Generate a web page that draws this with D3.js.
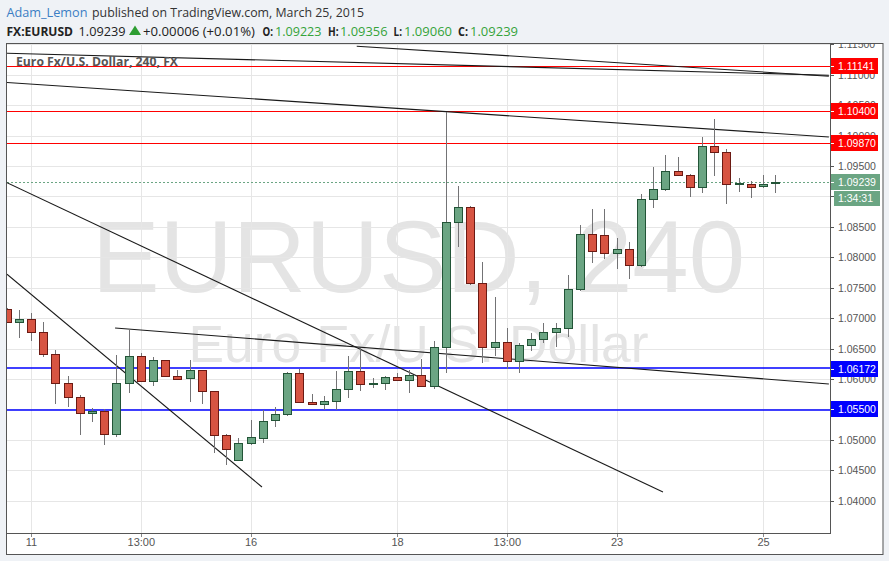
<!DOCTYPE html>
<html><head><meta charset="utf-8">
<script src="https://cdn.jsdelivr.net/npm/d3@7"></script>
<style>html,body{margin:0;padding:0;background:#eff2f6;}svg{display:block}</style>
</head><body><svg id="c" width="889" height="561"></svg>
<script>
// ---- data (4H candles, EURUSD) ----
const opens  = [1.07145,1.06932,1.06981,1.06767,1.06406,1.05929,1.05699,1.05436,1.05469,1.05091,
                1.05929,1.06378,1.05962,1.06307,1.06044,1.06011,1.06143,1.05798,1.05075,1.04664,
                1.04943,1.05035,1.05326,1.05420,1.06094,1.05627,1.05584,1.05634,1.05831,1.06127,
                1.05913,1.05929,1.06028,1.05979,1.06061,1.05880,1.06521,1.08575,1.08822,1.07583,
                1.06531,1.06603,1.06291,1.06554,1.06652,1.06767,1.06833,1.07474,1.08378,1.08361,
                1.08076,1.08131,1.07868,1.08953,1.09117,1.09413,1.09348,1.09150,1.09824,1.09725,
                1.09200,1.09210,1.09167,1.09223];
const highs  = [1.07160,1.07134,1.07080,1.06932,1.06477,1.06049,1.05737,1.05518,1.05507,1.06394,
                1.06817,1.06432,1.06357,1.06315,1.06148,1.06312,1.06150,1.05805,1.05091,1.05025,
                1.05326,1.05491,1.05545,1.06120,1.06159,1.05753,1.05721,1.06131,1.06378,1.06505,
                1.06021,1.06049,1.06103,1.06148,1.06324,1.06624,1.10393,1.09172,1.08843,1.07918,
                1.07353,1.06838,1.06597,1.06761,1.06925,1.06925,1.07709,1.08531,1.08794,1.08794,
                1.08317,1.08252,1.09040,1.09479,1.09681,1.09648,1.09369,1.09977,1.10273,1.09780,
                1.09298,1.09259,1.09352,1.09356];
const lows   = [1.06920,1.06669,1.06629,1.06357,1.05584,1.05545,1.05085,1.05298,1.04920,1.05052,
                1.05775,1.05950,1.05890,1.06040,1.05984,1.05627,1.05594,1.04789,1.04592,1.04660,
                1.04920,1.04953,1.05216,1.05397,1.05601,1.05584,1.05491,1.05491,1.05693,1.05808,
                1.05847,1.05819,1.05979,1.05775,1.05880,1.05831,1.06104,1.08174,1.07545,1.06268,
                1.06378,1.06159,1.06104,1.06465,1.06597,1.06531,1.06695,1.07451,1.07911,1.07977,
                1.07813,1.07648,1.07845,1.08815,1.09094,1.09348,1.08993,1.09052,1.09341,1.08881,
                1.09078,1.08979,1.09144,1.09060];
const closes = [1.06932,1.06981,1.06767,1.06406,1.05929,1.05699,1.05436,1.05469,1.05091,1.05929,
                1.06378,1.05962,1.06312,1.06044,1.06005,1.06143,1.05798,1.05075,1.04845,1.04943,
                1.05042,1.05315,1.05420,1.06094,1.05627,1.05584,1.05634,1.05831,1.06127,1.05913,
                1.05939,1.06028,1.05979,1.06061,1.05880,1.06521,1.08575,1.08822,1.07583,1.06531,
                1.06603,1.06291,1.06554,1.06652,1.06767,1.06833,1.07474,1.08378,1.08108,1.08076,
                1.08131,1.07868,1.08953,1.09117,1.09413,1.09348,1.09150,1.09824,1.09725,1.09200,
                1.09226,1.09160,1.09200,1.09239];
const timeTickIdx    = [2, 11, 20, 32, 41, 50, 62];
const timeTickLabels = ["11", "13:00", "16", "18", "13:00", "23", "25"];
const priceTicks = [1.040,1.045,1.050,1.055,1.060,1.065,1.070,1.075,1.080,1.085,1.090,1.095,1.100,1.105,1.110,1.115];
const redLevels  = [1.11141, 1.10400, 1.09870];
const blueLevels = [1.06172, 1.05500];
const lastPrice  = 1.09239;
const countdown  = "1:34:31";
// trend lines: [index1, price1, index2, price2]
const trendLines = [
  [0.03, 1.11354, 67.4, 1.10992],
  [28.7, 1.11469, 67.4, 1.10976],
  [0.03, 1.10873, 67.4, 1.09977],
  [0.03, 1.09226, 53.8, 1.04143],
  [0.03, 1.07721, 20.93, 1.04225],
  [8.89, 1.06838, 67.4, 1.05918]
];

// ---- layout ----
const L = 7, R = 830, T = 44, B = 533, AXR = 882.5, BOT = 554;
const x = d3.scaleLinear().domain([0, 63]).range([6.6, 775.2]);
const y = d3.scaleLinear().domain([1.04, 1.115]).range([500.7, 44.3]);
const svg = d3.select("#c");
const UP = "#6ba583", UPB = "#225437", DN = "#d75442", DNB = "#6b1a13", WICK = "#737375";
const py = v => Math.round(y(v)) + 0.5;
const pe = v => 2 * Math.round(y(v) / 2);

svg.append("rect").attr("x", L).attr("y", T).attr("width", AXR - L).attr("height", BOT - T).attr("fill", "#fff");

const defs = svg.append("defs");
defs.append("clipPath").attr("id", "plot").append("rect").attr("x", L).attr("y", T).attr("width", R - L).attr("height", B - T);
defs.append("clipPath").attr("id", "axis").append("rect").attr("x", R).attr("y", T).attr("width", AXR - R).attr("height", B - T);

const plot = svg.append("g").attr("clip-path", "url(#plot)");

// watermark
plot.append("text").attr("x", (L + R) / 2).attr("y", 292).attr("text-anchor", "middle")
  .attr("font-family", "Liberation Sans, Arial, sans-serif").attr("font-size", 102)
  .attr("textLength", 653).attr("lengthAdjust", "spacingAndGlyphs")
  .attr("fill", "#e4e4e4").text("EURUSD, 240");
plot.append("text").attr("x", (L + R) / 2).attr("y", 362).attr("text-anchor", "middle")
  .attr("font-family", "Liberation Sans, Arial, sans-serif").attr("font-size", 51)
  .attr("textLength", 460).attr("lengthAdjust", "spacingAndGlyphs")
  .attr("fill", "#e4e4e4").text("Euro Fx/U.S. Dollar");

// grid
plot.selectAll("line.hg").data(priceTicks).enter().append("line").attr("class", "hg")
  .attr("x1", L).attr("x2", R).attr("y1", py).attr("y2", py)
  .attr("stroke", "#e6e6e6");
plot.selectAll("line.vg").data(timeTickIdx).enter().append("line").attr("class", "vg")
  .attr("y1", T).attr("y2", B).attr("x1", d => Math.round(x(d)) + 0.5).attr("x2", d => Math.round(x(d)) + 0.5)
  .attr("stroke", "#e6e6e6");

// horizontal levels
plot.selectAll("line.rl").data(redLevels).enter().append("line").attr("class", "rl")
  .attr("x1", L).attr("x2", R).attr("y1", py).attr("y2", py)
  .attr("stroke", "#ff0000").attr("stroke-width", 1);
plot.selectAll("line.bl").data(blueLevels).enter().append("line").attr("class", "bl")
  .attr("x1", L).attr("x2", R).attr("y1", pe).attr("y2", pe)
  .attr("stroke", "#0000ff").attr("stroke-width", 1.4);
plot.append("line").attr("x1", L).attr("x2", R)
  .attr("y1", py(lastPrice)).attr("y2", py(lastPrice))
  .attr("stroke", UP).attr("stroke-dasharray", "2,2");

// trend lines
plot.selectAll("line.tl").data(trendLines).enter().append("line").attr("class", "tl")
  .attr("x1", d => x(d[0])).attr("y1", d => y(d[1])).attr("x2", d => x(d[2])).attr("y2", d => y(d[3]))
  .attr("stroke", "#1a1a1a").attr("stroke-width", 1.1);

// candles
const candles = opens.map((o, i) => ({i, o, h: highs[i], l: lows[i], c: closes[i]}));
const cg = plot.selectAll("g.cd").data(candles).enter().append("g").attr("class", "cd");
cg.append("line")
  .attr("x1", d => Math.round(x(d.i)) + 0.5).attr("x2", d => Math.round(x(d.i)) + 0.5)
  .attr("y1", d => Math.round(y(d.h))).attr("y2", d => Math.round(y(d.l)))
  .attr("stroke", WICK);
cg.append("rect")
  .attr("x", d => Math.round(x(d.i)) - 4 + 0.5)
  .attr("width", 8)
  .attr("y", d => Math.round(y(Math.max(d.o, d.c))) + 0.5)
  .attr("height", d => Math.max(1, Math.round(y(Math.min(d.o, d.c))) - Math.round(y(Math.max(d.o, d.c)))))
  .attr("fill", d => d.c >= d.o ? UP : DN)
  .attr("stroke", d => d.c >= d.o ? UPB : DNB).attr("stroke-width", 1);

// legend
svg.append("text").attr("x", 16).attr("y", 65.5)
  .attr("font-family", "Open Sans, sans-serif").attr("font-weight", "bold").attr("font-size", 12)
  .attr("textLength", 162).attr("lengthAdjust", "spacingAndGlyphs")
  .attr("fill", "#555").text("Euro Fx/U.S. Dollar, 240, FX");

// price axis
const ax = svg.append("g").attr("clip-path", "url(#axis)");
ax.selectAll("line.pt").data(priceTicks).enter().append("line").attr("class", "pt")
  .attr("x1", R).attr("x2", R + 4).attr("y1", py).attr("y2", py)
  .attr("stroke", "#555");
ax.selectAll("text.ptl").data(priceTicks).enter().append("text").attr("class", "ptl")
  .attr("x", 838).attr("y", d => y(d) + 4)
  .attr("font-family", "Liberation Sans, Arial, sans-serif").attr("font-size", 10.5).attr("fill", "#555")
  .text(d => d.toFixed(5));

function box(v, col, w) {
  const yy = Math.round(y(v));
  ax.append("rect").attr("x", R).attr("y", yy - 8).attr("width", w).attr("height", 16).attr("fill", col);
  ax.append("line").attr("x1", R).attr("x2", R + 4).attr("y1", yy + 0.5).attr("y2", yy + 0.5).attr("stroke", "#fff");
  ax.append("text").attr("x", 838).attr("y", yy + 4)
    .attr("font-family", "Liberation Sans, Arial, sans-serif").attr("font-size", 10.5).attr("fill", "#fff")
    .text(v.toFixed(5));
}
redLevels.forEach(v => box(v, "#ff0000", 48));
blueLevels.forEach(v => box(v, "#0000ff", 48));
box(lastPrice, UP, 50);
{
  const yy = Math.round(y(lastPrice));
  ax.append("rect").attr("x", 834).attr("y", yy + 9).attr("width", 46).attr("height", 15).attr("fill", UP);
  ax.append("text").attr("x", 838).attr("y", yy + 20)
    .attr("font-family", "Liberation Sans, Arial, sans-serif").attr("font-size", 10.5).attr("fill", "#fff")
    .text(countdown);
}

// time axis
svg.selectAll("line.tt").data(timeTickIdx).enter().append("line").attr("class", "tt")
  .attr("x1", d => Math.round(x(d)) + 0.5).attr("x2", d => Math.round(x(d)) + 0.5).attr("y1", B).attr("y2", B + 4)
  .attr("stroke", "#888");
svg.selectAll("text.ttl").data(timeTickIdx).enter().append("text").attr("class", "ttl")
  .attr("x", d => x(d) + 0.5).attr("y", 545.5).attr("text-anchor", "middle")
  .attr("font-family", "Liberation Sans, Arial, sans-serif").attr("font-size", 11).attr("fill", "#555")
  .text((d, i) => timeTickLabels[i]);

// borders
const bc = "#555";
svg.append("rect").attr("x", L - 0.5).attr("y", T - 0.5).attr("width", AXR - L + 1).attr("height", BOT - T + 1)
  .attr("fill", "none").attr("stroke", bc);
svg.append("line").attr("x1", R + 0.5).attr("x2", R + 0.5).attr("y1", T).attr("y2", B + 1).attr("stroke", bc);
svg.append("line").attr("x1", L).attr("x2", R + 1).attr("y1", B + 0.5).attr("y2", B + 0.5).attr("stroke", bc);

// header
const hf = "Open Sans, sans-serif";
function seg(txt, xx, yy, col, bold, len) {
  const t = svg.append("text").attr("x", xx).attr("y", yy).attr("font-family", hf).attr("font-size", 13)
    .attr("fill", col).attr("font-weight", bold ? "bold" : "normal").text(txt);
  if (len) t.attr("textLength", len).attr("lengthAdjust", "spacingAndGlyphs");
}
const GR = "#35a33a", DK = "#222";
seg("Adam_Lemon", 6.5, 17, "#3b7ec4", false, 81);
seg("published on TradingView.com, March 25, 2015", 92, 17, "#333", false, 272);
seg("FX:EURUSD", 6.5, 35.5, DK, true, 66.5);
seg("1.09239", 78.6, 35.5, DK, false, 47);
svg.append("path").attr("d", d3.line()([[129, 35], [135, 25.5], [141, 35]]) + "Z").attr("fill", "#2e9e32");
seg("+0.00006 (+0.01%)", 143, 35.5, DK, false, 112);
seg("O:", 262.5, 35.5, DK, true, 10.5);
seg("1.09223", 275, 35.5, GR, false, 46.5);
seg("H:", 328, 35.5, DK, true, 10.6);
seg("1.09356", 340, 35.5, GR, false, 47.5);
seg("L:", 393.6, 35.5, DK, true, 8.4);
seg("1.09060", 404, 35.5, GR, false, 48);
seg("C:", 458, 35.5, DK, true, 10);
seg("1.09239", 470, 35.5, GR, false, 48);
</script></body></html>
